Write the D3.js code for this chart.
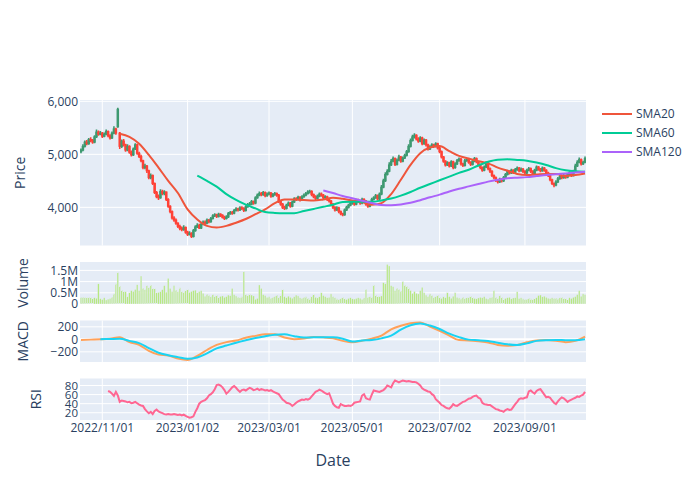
<!DOCTYPE html>
<html><head><meta charset="utf-8">
<script src="https://cdn.jsdelivr.net/npm/d3@7"></script>
<style>body{margin:0;background:#fff}svg{display:block;font-family:"Open Sans",Verdana,Arial,sans-serif}</style>
</head><body><svg id="c" width="700" height="500"></svg>
<script>
// trading days per month
const tradingDays = [
 ["2022-10","17 18 19 20 21 24 25 26 27 28 31"],
 ["2022-11","01 02 03 04 07 08 09 10 11 14 15 16 17 18 21 22 23 24 25 28 29 30"],
 ["2022-12","01 02 05 06 07 08 09 12 13 14 15 16 19 20 21 22 23 26 27 28 29 30"],
 ["2023-01","02 03 04 05 06 09 10 11 12 13 16 17 18 19 20 23 24 25 26 27 30 31"],
 ["2023-02","01 02 03 06 07 08 09 10 13 14 15 16 17 20 21 22 23 24 27 28"],
 ["2023-03","01 02 03 06 07 08 09 10 13 14 15 16 17 20 21 22 23 24 27 28 29 30 31"],
 ["2023-04","03 04 05 06 07 10 11 12 13 14 17 18 19 20 21 24 25 26 27 28"],
 ["2023-05","01 02 03 04 05 08 09 10 11 12 15 16 17 18 19 22 23 24 25 26 29 30 31"],
 ["2023-06","01 02 05 06 07 08 09 12 13 14 15 16 19 20 21 22 23 26 27 28 29 30"],
 ["2023-07","03 04 05 06 07 10 11 12 13 14 17 18 19 20 21 24 25 26 27 28 31"],
 ["2023-08","01 02 03 04 07 08 09 10 11 14 15 16 17 18 21 22 23 24 25 28 29 30 31"],
 ["2023-09","01 04 05 06 07 08 11 12 13 14 15 18 19 20 21 22 25 26 27 28 29"],
 ["2023-10","02 03 04 05 06 09 10 11 12 13 16"]
];
const openP = [5050,5080,5150,5230,5200,5280,5260,5230,5330,5420,5380,5400,5340,5380,5430,5350,5310,5400,5480,5520,5400,5150,5250,5180,5080,5150,5040,4990,5100,5180,5020,4960,4880,4750,4780,4690,4560,4600,4450,4280,4200,4180,4300,4260,4290,4150,4020,3920,3800,3760,3700,3640,3600,3580,3620,3530,3490,3510,3450,3560,3630,3660,3610,3680,3720,3700,3760,3730,3790,3840,3860,3830,3870,3850,3810,3790,3820,3880,3900,3890,3940,3970,3950,3990,3980,3940,4010,4050,4060,4110,4080,4180,4230,4260,4240,4280,4220,4250,4270,4210,4240,4260,4230,4110,4060,4000,3980,4040,4080,4020,4100,4160,4150,4190,4140,4200,4230,4260,4290,4300,4240,4200,4170,4210,4250,4230,4180,4200,4150,4120,4060,4000,3950,3990,3920,3880,3860,3950,4000,4040,4080,4100,4060,4130,4110,4080,4150,4120,4060,4020,4090,4150,4180,4220,4160,4250,4380,4500,4620,4680,4800,4870,4920,4810,4890,4950,4870,4930,4980,5050,5150,5260,5330,5360,5290,5250,5310,5200,5270,5180,5100,5140,5180,5150,5200,5120,5050,4950,4870,4800,4840,4780,4860,4750,4820,4880,4910,4820,4790,4880,4900,4850,4810,4870,4920,4860,4800,4750,4700,4760,4840,4730,4680,4600,4560,4510,4480,4530,4500,4560,4620,4680,4650,4700,4660,4710,4740,4690,4720,4680,4650,4700,4730,4680,4640,4700,4760,4720,4690,4740,4700,4650,4600,4520,4450,4420,4480,4540,4580,4560,4600,4570,4620,4650,4600,4680,4780,4850,4900,4820,4850];
const highP = [5110,5190,5260,5270,5310,5320,5290,5360,5470,5450,5440,5420,5410,5470,5450,5380,5430,5530,5500,5880,5420,5280,5290,5200,5190,5170,5070,5130,5210,5200,5050,4990,4900,4820,4800,4710,4640,4620,4470,4310,4240,4340,4330,4320,4300,4170,4040,3940,3830,3790,3720,3670,3640,3660,3640,3560,3550,3530,3590,3660,3700,3690,3710,3750,3750,3790,3780,3820,3870,3890,3880,3900,3890,3870,3840,3850,3910,3930,3930,3970,4000,3990,4020,4020,4000,4040,4080,4100,4140,4130,4210,4260,4300,4290,4310,4300,4280,4300,4290,4270,4290,4280,4250,4130,4080,4030,4070,4110,4100,4130,4190,4190,4220,4210,4230,4260,4290,4320,4330,4320,4260,4230,4240,4280,4280,4250,4230,4220,4170,4140,4080,4020,4020,4010,3940,3900,3980,4030,4070,4110,4130,4120,4160,4160,4130,4180,4170,4140,4080,4120,4180,4210,4250,4240,4280,4420,4540,4660,4720,4850,4910,4960,4940,4920,4990,4970,4960,5010,5080,5190,5300,5370,5400,5380,5320,5340,5330,5300,5290,5200,5170,5210,5200,5230,5220,5140,5070,4970,4890,4870,4860,4890,4880,4850,4910,4940,4930,4840,4910,4930,4920,4870,4900,4950,4940,4880,4820,4770,4790,4870,4860,4750,4700,4620,4580,4530,4560,4550,4590,4650,4710,4700,4730,4720,4740,4770,4760,4750,4740,4700,4730,4760,4750,4700,4730,4790,4780,4740,4770,4760,4720,4670,4620,4540,4470,4510,4570,4610,4600,4630,4620,4650,4680,4670,4710,4820,4890,4940,4920,4880,4960];
const lowP = [5020,5060,5130,5170,5180,5230,5200,5210,5310,5350,5360,5310,5320,5360,5320,5280,5290,5380,5370,5500,5100,5120,5150,5050,5060,5010,4960,4970,5080,4990,4930,4850,4720,4720,4650,4530,4530,4420,4250,4170,4140,4160,4230,4230,4120,3990,3890,3770,3730,3670,3610,3570,3550,3560,3500,3460,3470,3420,3430,3540,3610,3590,3590,3660,3670,3680,3700,3710,3770,3820,3800,3810,3820,3790,3760,3770,3800,3860,3860,3870,3920,3920,3930,3950,3910,3920,3990,4030,4040,4050,4060,4160,4210,4210,4220,4190,4200,4230,4180,4190,4220,4200,4080,4030,3970,3950,3960,4020,3990,4000,4080,4120,4130,4110,4120,4180,4210,4240,4260,4210,4170,4140,4150,4190,4200,4150,4160,4120,4090,4030,3970,3920,3930,3890,3850,3830,3840,3930,3980,4020,4050,4030,4040,4080,4050,4060,4090,4030,3990,4000,4070,4130,4160,4130,4140,4230,4360,4480,4600,4660,4780,4850,4780,4790,4870,4840,4850,4910,4960,5030,5130,5240,5300,5260,5220,5230,5170,5180,5150,5070,5080,5120,5120,5130,5090,5020,4920,4840,4770,4780,4750,4760,4720,4730,4800,4860,4790,4760,4770,4860,4820,4780,4790,4850,4830,4770,4720,4670,4680,4740,4700,4650,4570,4530,4480,4450,4460,4470,4480,4540,4600,4620,4630,4630,4640,4690,4660,4670,4650,4620,4630,4680,4650,4610,4620,4680,4690,4660,4670,4670,4620,4570,4490,4420,4380,4400,4460,4520,4530,4540,4540,4550,4600,4570,4580,4660,4760,4830,4790,4800,4830];
const closeP = [5080,5150,5230,5200,5280,5260,5230,5330,5420,5380,5400,5340,5380,5430,5350,5310,5400,5480,5400,5850,5150,5250,5180,5080,5150,5040,4990,5100,5180,5020,4960,4880,4750,4780,4690,4560,4600,4450,4280,4200,4180,4300,4260,4290,4150,4020,3920,3800,3760,3700,3640,3600,3580,3620,3530,3490,3510,3450,3560,3630,3660,3610,3680,3720,3700,3760,3730,3790,3840,3860,3830,3870,3850,3810,3790,3820,3880,3900,3890,3940,3970,3950,3990,3980,3940,4010,4050,4060,4110,4080,4180,4230,4260,4240,4280,4220,4250,4270,4210,4240,4260,4230,4110,4060,4000,3980,4040,4080,4020,4100,4160,4150,4190,4140,4200,4230,4260,4290,4300,4240,4200,4170,4210,4250,4230,4180,4200,4150,4120,4060,4000,3950,3990,3920,3880,3860,3950,4000,4040,4080,4100,4060,4130,4110,4080,4150,4120,4060,4020,4090,4150,4180,4220,4160,4250,4380,4500,4620,4680,4800,4870,4920,4810,4890,4950,4870,4930,4980,5050,5150,5260,5330,5360,5290,5250,5310,5200,5270,5180,5100,5140,5180,5150,5200,5120,5050,4950,4870,4800,4840,4780,4860,4750,4820,4880,4910,4820,4790,4880,4900,4850,4810,4870,4920,4860,4800,4750,4700,4760,4840,4730,4680,4600,4560,4510,4480,4530,4500,4560,4620,4680,4650,4700,4660,4710,4740,4690,4720,4680,4650,4700,4730,4680,4640,4700,4760,4720,4690,4740,4700,4650,4600,4520,4450,4420,4480,4540,4580,4560,4600,4570,4620,4650,4600,4680,4780,4850,4900,4820,4850,4920];
// volume in thousands of shares
const volume = [290,300,290,280,300,290,270,280,260,900,240,200,280,180,220,250,300,450,900,1400,800,620,580,550,320,500,600,560,650,860,600,1250,700,640,820,730,850,700,680,500,520,550,640,820,530,1150,700,560,830,620,550,720,550,530,610,650,520,560,600,620,500,560,600,480,350,430,380,330,420,350,390,300,340,360,300,330,400,370,700,420,360,300,280,320,1440,420,380,450,400,360,210,250,850,700,420,380,300,320,260,300,350,400,300,380,650,330,280,350,300,260,320,400,360,280,250,300,320,260,230,350,420,300,270,320,500,380,330,280,300,450,330,280,230,210,260,300,240,200,250,280,230,220,250,280,260,210,270,650,300,330,300,850,400,350,320,360,950,900,1770,1700,820,780,600,700,650,580,1000,850,800,720,600,470,560,480,450,600,750,500,400,330,450,380,300,350,400,300,250,320,280,500,330,260,350,500,300,270,230,300,250,280,310,350,300,250,230,270,300,280,330,250,220,280,300,600,300,250,380,300,230,250,280,300,230,270,280,550,250,280,230,200,220,260,230,210,250,280,380,400,320,350,300,260,240,280,250,260,230,280,300,260,240,220,280,250,300,330,420,600,350,450,420];
const rsi = [null,null,null,null,null,null,null,null,null,null,null,null,null,null,68,66,62,57,66,58,44,47,46,45,43,44,41,42,44,41,38,36,35,28,23,19,22,17,24,27,23,21,19,17,16,17,16,16,17,16,15,16,14,16,13,11,9,10,12,22,30,40,44,46,48,52,58,61,65,72,81,82,80,76,70,62,66,71,76,79,75,70,66,70,71,69,72,75,73,70,71,73,70,72,71,69,70,68,70,67,65,63,61,55,49,46,42,41,39,35,38,42,45,47,49,48,50,49,51,56,61,66,68,71,69,66,63,61,63,52,40,35,32,31,39,37,35,35,36,35,37,42,43,44,45,58,61,52,50,49,60,69,68,67,66,68,70,74,80,78,76,85,91,89,87,89,91,90,89,90,89,88,88,87,84,80,74,71,69,67,66,61,58,50,46,42,37,35,32,30,29,33,39,36,35,38,41,44,45,48,51,52,55,57,58,53,51,42,39,38,37,37,34,31,28,27,25,24,22,26,28,26,27,33,39,44,50,52,51,53,54,67,69,65,62,68,71,72,66,60,54,55,53,47,42,39,45,50,54,52,48,44,47,49,51,53,56,55,58,60,66];
// weekly readings (Mondays) of the indicator lines
const weekDates = ["2022-10-17","2022-10-24","2022-10-31","2022-11-07","2022-11-14","2022-11-21","2022-11-28","2022-12-05","2022-12-12","2022-12-19","2022-12-26","2023-01-02","2023-01-09","2023-01-16","2023-01-23","2023-01-30","2023-02-06","2023-02-13","2023-02-20","2023-02-27","2023-03-06","2023-03-13","2023-03-20","2023-03-27","2023-04-03","2023-04-10","2023-04-17","2023-04-24","2023-05-01","2023-05-08","2023-05-15","2023-05-22","2023-05-29","2023-06-05","2023-06-12","2023-06-19","2023-06-26","2023-07-03","2023-07-10","2023-07-17","2023-07-24","2023-07-31","2023-08-07","2023-08-14","2023-08-21","2023-08-28","2023-09-04","2023-09-11","2023-09-18","2023-09-25","2023-10-02","2023-10-09","2023-10-16"];
const sma20 = [null,null,null,null,5390,5330,5200,4990,4750,4500,4270,3960,3770,3650,3620,3650,3710,3780,3870,3960,4080,4150,4150,4140,4130,4150,4180,4160,4130,4100,4050,4080,4250,4520,4800,5020,5130,5155,5060,4970,4920,4870,4830,4750,4690,4630,4610,4620,4630,4630,4590,4610,4640];
const sma60 = [null,null,null,null,null,null,null,null,null,null,null,null,4600,4500,4390,4250,4140,4050,3980,3910,3895,3890,3890,3930,3970,4010,4050,4100,4105,4105,4105,4130,4165,4220,4290,4370,4440,4510,4580,4650,4710,4790,4860,4900,4905,4895,4880,4845,4800,4740,4700,4680,4670];
const sma120 = [null,null,null,null,null,null,null,null,null,null,null,null,null,null,null,null,null,null,null,null,null,null,null,null,null,4320,4270,4215,4170,4125,4080,4045,4040,4055,4085,4135,4190,4240,4300,4350,4395,4440,4485,4520,4548,4560,4570,4590,4610,4625,4640,4655,4670];
const macd = [-10,-5,0,10,35,-45,-88,-185,-245,-260,-308,-330,-265,-171,-90,-45,-20,25,55,82,80,30,2,12,38,32,16,-25,-48,-22,10,60,160,218,258,270,205,135,60,-12,-18,-32,-50,-90,-102,-90,-48,-18,-10,-22,-45,-25,42];
const signal = [null,null,2,5,8,-25,-60,-140,-215,-255,-285,-312,-290,-225,-145,-100,-55,-15,22,48,72,80,50,30,32,32,32,10,-35,-20,-11,15,60,155,225,252,220,165,90,35,-5,-15,-28,-55,-80,-90,-65,-25,-14,-11,-14,-15,0];
const tickDates = ["2022-11-01","2023-01-02","2023-03-01","2023-05-01","2023-07-02","2023-09-01"];
const tickLabels = ["2022/11/01","2023/01/02","2023/03/01","2023/05/01","2023/07/02","2023/09/01"];
const priceTicks = [4000,5000,6000];
const volTicks = [0,500,1000,1500];
const volTickLabels = ["0","0.5M","1M","1.5M"];
const macdTicks = [-200,0,200];
const rsiTicks = [20,40,60,80];
const seriesNames = ["SMA20","SMA60","SMA120"];

const dates = tradingDays.flatMap(([m, d]) => d.split(" ").map(x => m + "-" + x));
const n = dates.length;
const svg = d3.select("#c");
const TXT = "#2a3f5f", BG = "#E5ECF6";
const L = 80, R = 586;
const x = d3.scaleLinear().domain([-0.5, n - 0.5]).range([L, R]);
const step = x(1) - x(0);

const panels = {
  price: {y0: 100, y1: 245.5},
  vol: {y0: 262, y1: 304},
  macd: {y0: 320.5, y1: 362},
  rsi: {y0: 378.5, y1: 420}
};
const yP = d3.scaleLinear().domain([3280, 6025]).range([panels.price.y1, panels.price.y0]);
const yV = d3.scaleLinear().domain([0, 1875]).range([panels.vol.y1, panels.vol.y0]);
const yM = d3.scaleLinear().domain([-363, 301]).range([panels.macd.y1, panels.macd.y0]);
const yR = d3.scaleLinear().domain([4, 95.5]).range([panels.rsi.y1, panels.rsi.y0]);

const tickIdx = tickDates.map(t => d3.bisectLeft(dates, t));

function panel(key, yScale, ticks, labels, vgrid, title, titleX, zeroVal, tickFont) {
  const p = panels[key];
  svg.append("rect").attr("x", L).attr("y", p.y0).attr("width", R - L).attr("height", p.y1 - p.y0).attr("fill", BG);
  const cid = "clip-" + key;
  svg.append("clipPath").attr("id", cid).append("rect").attr("x", L).attr("y", p.y0).attr("width", R - L).attr("height", p.y1 - p.y0);
  const g = svg.append("g");
  if (vgrid) {
    g.selectAll(null).data(tickIdx).join("line")
      .attr("x1", d => x(d)).attr("x2", d => x(d)).attr("y1", p.y0).attr("y2", p.y1)
      .attr("stroke", "#fff").attr("stroke-width", 1);
  }
  g.selectAll(null).data(ticks).join("line")
    .attr("x1", L).attr("x2", R).attr("y1", d => yScale(d)).attr("y2", d => yScale(d))
    .attr("stroke", "#fff").attr("stroke-width", d => d === zeroVal ? 2 : 1);
  g.selectAll(null).data(ticks).join("text")
    .attr("x", L - 2).attr("y", d => yScale(d)).attr("dy", "0.35em")
    .attr("text-anchor", "end").attr("font-size", tickFont || 12).attr("fill", TXT)
    .text((d, i) => labels[i]);
  svg.append("text").attr("transform", `translate(${titleX},${(p.y0 + p.y1) / 2}) rotate(-90)`)
    .attr("text-anchor", "middle").attr("dy", "0.35em").attr("font-size", 14).attr("fill", TXT).text(title);
  return svg.append("g").attr("clip-path", `url(#${cid})`);
}

const fmt = d3.format(",");
const gP = panel("price", yP, priceTicks, priceTicks.map(fmt), true, "Price", 20, null);
const gV = panel("vol", yV, volTicks, volTickLabels, false, "Volume", 23, 0);
const gM = panel("macd", yM, macdTicks, macdTicks.map(d => d < 0 ? "\u2212" + (-d) : String(d)), true, "MACD", 23, 0);
const gR = panel("rsi", yR, rsiTicks, rsiTicks.map(String), true, "RSI", 36, null, 11.5);

// candlesticks
const idx = d3.range(n);
const cUp = "#3D9970", cDn = "#FF4136";
const col = i => closeP[i] > openP[i] ? cUp : cDn;
gP.selectAll(null).data(idx).join("line")
  .attr("x1", i => x(i)).attr("x2", i => x(i))
  .attr("y1", i => yP(highP[i])).attr("y2", i => yP(lowP[i]))
  .attr("stroke", col).attr("stroke-width", 1.6);
gP.selectAll(null).data(idx).join("rect")
  .attr("x", i => x(i) - 1.25).attr("width", 2.5)
  .attr("y", i => yP(Math.max(openP[i], closeP[i])) - 0.5)
  .attr("height", i => Math.max(1.5, Math.abs(yP(openP[i]) - yP(closeP[i])) + 1))
  .attr("fill", col);

// SMA lines
const wx = weekDates.map(d => x(dates.indexOf(d)));
function wline(g, yScale, vals, color) {
  const line = d3.line().defined(d => d[1] != null).x(d => d[0]).y(d => yScale(d[1])).curve(d3.curveMonotoneX);
  g.append("path").datum(vals.map((v, k) => [wx[k], v])).attr("d", line)
    .attr("fill", "none").attr("stroke", color).attr("stroke-width", 2);
}
const smaColors = ["#EF553B", "#00CC96", "#AB63FA"];
[sma20, sma60, sma120].forEach((s, k) => wline(gP, yP, s, smaColors[k]));

// volume
const bw = step * 0.8;
gV.selectAll(null).data(idx).join("rect")
  .attr("x", i => x(i) - bw / 2).attr("width", bw)
  .attr("y", i => yV(volume[i])).attr("height", i => yV(0) - yV(volume[i]))
  .attr("fill", "#B6E880").attr("stroke", BG).attr("stroke-width", 0.4);

// MACD
wline(gM, yM, macd, "#FFA15A");
wline(gM, yM, signal, "#19D3F3");

// RSI
const rline = d3.line().defined(i => rsi[i] != null).x(i => x(i)).y(i => yR(rsi[i]));
gR.append("path").datum(idx).attr("d", rline).attr("fill", "none").attr("stroke", "#FF6692").attr("stroke-width", 2);

// x tick labels
svg.selectAll(null).data(tickIdx).join("text")
  .attr("x", d => x(d)).attr("y", 432).attr("text-anchor", "middle")
  .attr("font-size", 12).attr("fill", TXT).text((d, i) => tickLabels[i]);
svg.append("text").attr("x", (L + R) / 2).attr("y", 466).attr("text-anchor", "middle")
  .attr("font-size", 16).attr("fill", TXT).text("Date");

// legend
seriesNames.forEach((nm, k) => {
  const yy = 114 + k * 19;
  svg.append("line").attr("x1", 602).attr("x2", 632).attr("y1", yy).attr("y2", yy)
    .attr("stroke", smaColors[k]).attr("stroke-width", 2);
  svg.append("text").attr("x", 636).attr("y", yy).attr("dy", "0.35em")
    .attr("font-size", 12).attr("fill", TXT).text(nm);
});
</script></body></html>
